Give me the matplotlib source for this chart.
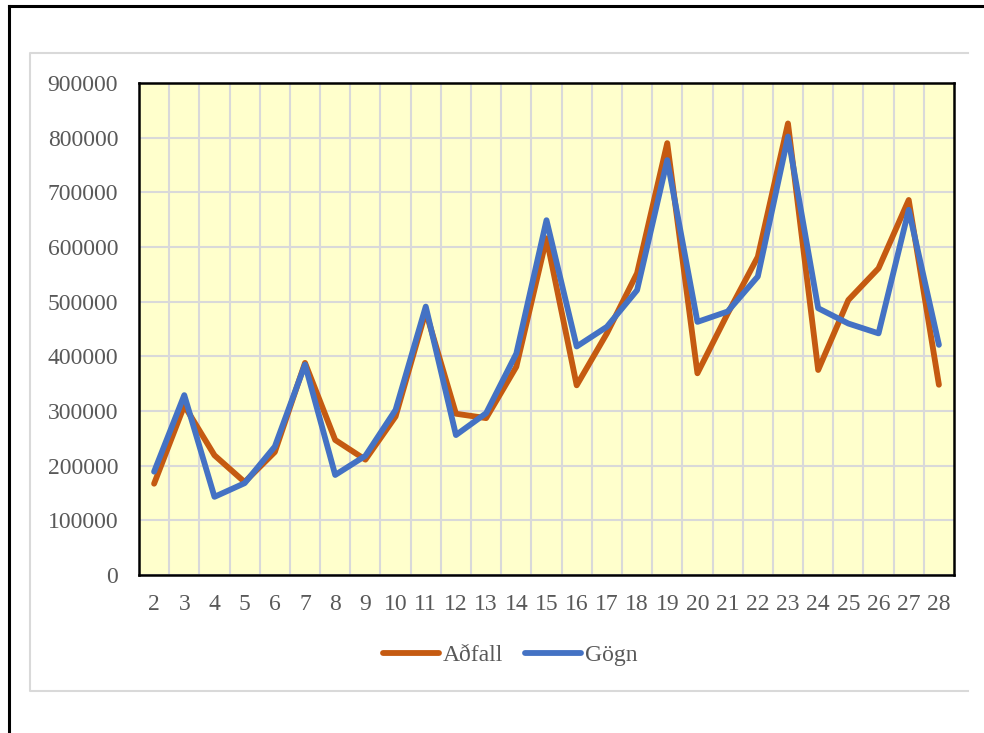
import matplotlib.pyplot as plt
from matplotlib.lines import Line2D

plt.rcParams["font.family"] = ["Liberation Serif", "DejaVu Serif"]

# periods and the two series
periods = list(range(2, 29))
adfall = [167000, 310000, 219000, 170000, 225000, 388000, 247000, 211000, 290000,
          482000, 295000, 287000, 381000, 616000, 347000, 442000, 552000, 790000,
          369000, 478000, 582000, 826000, 375000, 503000, 561000, 686000, 348000]
gogn = [189000, 329000, 143000, 168000, 235000, 385000, 183000, 218000, 302000,
        491000, 256000, 296000, 405000, 649000, 418000, 454000, 521000, 759000,
        463000, 482000, 546000, 802000, 488000, 460000, 442000, 668000, 421000]
y_ticks = list(range(0, 900001, 100000))

W, H = 984, 733
fig = plt.figure(figsize=(W / 100, H / 100), dpi=100)


def px_line(xs, ys, **kw):
    # line in pixel coordinates measured from the top-left corner
    fig.add_artist(Line2D([v / W for v in xs], [1 - v / H for v in ys],
                          transform=fig.transFigure, **kw))


# outer black frame (top and left edges)
px_line([9, 9], [6, H], color="black", lw=2.2)
px_line([9, W], [6, 6], color="black", lw=2.2)
# light chart-area border: top, left and bottom
px_line([968, 30, 30, 968], [53, 53, 691, 691], color="#D9D9D9", lw=1.5)

ax = fig.add_axes([139 / W, 1 - 575 / H, (954 - 139) / W, (575 - 83) / H])
ax.set_facecolor("#FFFFCC")

x = list(range(len(periods)))
ax.plot(x, adfall, color="#C55A11", lw=4.2, solid_capstyle="round",
        solid_joinstyle="round", label="Aðfall", zorder=3)
ax.plot(x, gogn, color="#4472C4", lw=4.2, solid_capstyle="round",
        solid_joinstyle="round", label="Gögn", zorder=4)

ax.set_xlim(-0.5, len(periods) - 0.5)
ax.set_ylim(0, 900000)
ax.set_xticks(x)
ax.set_xticklabels([str(p) for p in periods])
ax.set_xticks([i + 0.5 for i in range(len(periods) - 1)], minor=True)
ax.set_yticks(y_ticks)
ax.set_yticklabels([str(v) for v in y_ticks])

ax.grid(True, axis="y", which="major", color="#D9D9D9", lw=1.5, zorder=1)
ax.grid(True, axis="x", which="minor", color="#D9D9D9", lw=1.5, zorder=1)
ax.set_axisbelow(True)

ax.tick_params(axis="both", which="both", length=0, labelsize=17,
               labelcolor="#595959")
ax.tick_params(axis="x", pad=14)
ax.tick_params(axis="y", pad=15)
for s in ax.spines.values():
    s.set_color("black")
    s.set_linewidth(1.8)

fig.legend(loc="center", bbox_to_anchor=(510 / W, 1 - 655 / H), ncol=2,
           frameon=False, fontsize=17, handlelength=2.4, handletextpad=0.15,
           columnspacing=0.9, labelcolor="#595959")

fig.savefig("out.png", dpi=100)
